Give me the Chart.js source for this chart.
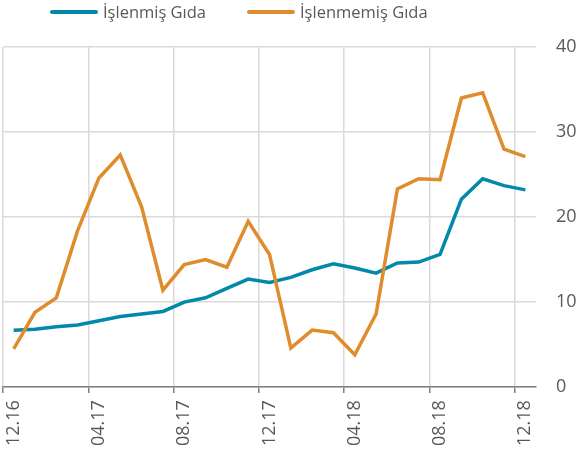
<!DOCTYPE html>
<html lang="tr">
<head>
    <meta charset="UTF-8">
    <title>İşlenmiş ve İşlenmemiş Gıda</title>
    <script src="https://cdn.jsdelivr.net/npm/chart.js"></script>
    <style>
        body {
            margin: 0;
            padding: 0;
            background: #ffffff;
            font-family: "Open Sans", sans-serif;
        }
        #wrap {
            position: relative;
            width: 580px;
            height: 456px;
        }
        .legend-line {
            position: absolute;
            top: 10px;
            width: 48px;
            height: 4px;
            border-radius: 2px;
        }
        .legend-text {
            position: absolute;
            top: 0px;
            line-height: 24px;
            font-size: 16.5px;
            color: #595959;
        }
    </style>
</head>
<body>
<div id="wrap">
    <!-- lejant -->
    <div class="legend-line" style="left:50px;background:#0089a9"></div>
    <div class="legend-text" style="left:103px">İşlenmiş Gıda</div>
    <div class="legend-line" style="left:247px;background:#de8c2c"></div>
    <div class="legend-text" style="left:300px">İşlenmemiş Gıda</div>
    <canvas id="chart"></canvas>
</div>

<script>
    // aylar (12.16 - 12.18)
    const months = ['12.16', '01.17', '02.17', '03.17', '04.17', '05.17', '06.17', '07.17', '08.17', '09.17', '10.17', '11.17',
        '12.17', '01.18', '02.18', '03.18', '04.18', '05.18', '06.18', '07.18', '08.18', '09.18', '10.18', '11.18', '12.18'];

    // yıllık değişim (%)
    const islenmis = [6.7, 6.8, 7.1, 7.3, 7.8, 8.3, 8.6, 8.9, 10.0, 10.5, 11.6, 12.7,
        12.3, 12.9, 13.8, 14.5, 14.0, 13.4, 14.6, 14.7, 15.6, 22.1, 24.5, 23.7, 23.2];
    const islenmemis = [4.5, 8.8, 10.5, 18.4, 24.6, 27.3, 21.2, 11.4, 14.4, 15.0, 14.1, 19.5,
        15.6, 4.6, 6.7, 6.4, 3.8, 8.6, 23.3, 24.5, 24.4, 34.0, 34.6, 28.0, 27.1];

    const yTicks = [0, 10, 20, 30, 40];

    const gray = '#595959';
    const gridGray = '#dadada';

    new Chart(document.getElementById('chart'), {
        type: 'line',
        data: {
            labels: months,
            datasets: [
                {
                    label: 'İşlenmiş Gıda',
                    data: islenmis,
                    borderColor: '#0089a9',
                    backgroundColor: '#0089a9',
                    borderWidth: 3.5,
                    pointRadius: 0,
                    tension: 0,
                    order: 1
                },
                {
                    label: 'İşlenmemiş Gıda',
                    data: islenmemis,
                    borderColor: '#de8c2c',
                    backgroundColor: '#de8c2c',
                    borderWidth: 3.5,
                    pointRadius: 0,
                    tension: 0,
                    order: 0
                }
            ]
        },
        options: {
            responsive: true,
            maintainAspectRatio: false,
            animation: false,
            layout: {
                padding: { top: 47, right: 0, bottom: 3, left: 3 }
            },
            plugins: {
                legend: { display: false },
                tooltip: { enabled: false }
            },
            scales: {
                x: {
                    type: 'category',
                    offset: true,
                    grid: {
                        offset: true,
                        drawOnChartArea: true,
                        tickLength: 6,
                        lineWidth: 1.5,
                        color: ctx => (ctx.index % 4 === 0 ? gridGray : 'rgba(0,0,0,0)'),
                        tickColor: ctx => (ctx.index % 4 === 0 ? '#7f7f7f' : 'rgba(0,0,0,0)')
                    },
                    border: { display: true, color: '#7f7f7f', width: 1.5 },
                    ticks: {
                        autoSkip: false,
                        maxRotation: 90,
                        minRotation: 90,
                        padding: 7,
                        color: gray,
                        font: { family: 'Open Sans', size: 18 },
                        callback: (v, i) => (i % 4 === 0 ? months[i] : '')
                    }
                },
                y: {
                    position: 'right',
                    min: 0,
                    max: 40,
                    afterBuildTicks: axis => { axis.ticks = yTicks.map(v => ({ value: v })); },
                    afterFit: axis => { axis.width = 44; },
                    grid: {
                        drawTicks: false,
                        lineWidth: 1.5,
                        color: gridGray
                    },
                    border: { display: false },
                    ticks: {
                        padding: 20,
                        color: gray,
                        font: { family: 'Open Sans', size: 18 }
                    }
                }
            }
        }
    });
</script>
</body>
</html>
